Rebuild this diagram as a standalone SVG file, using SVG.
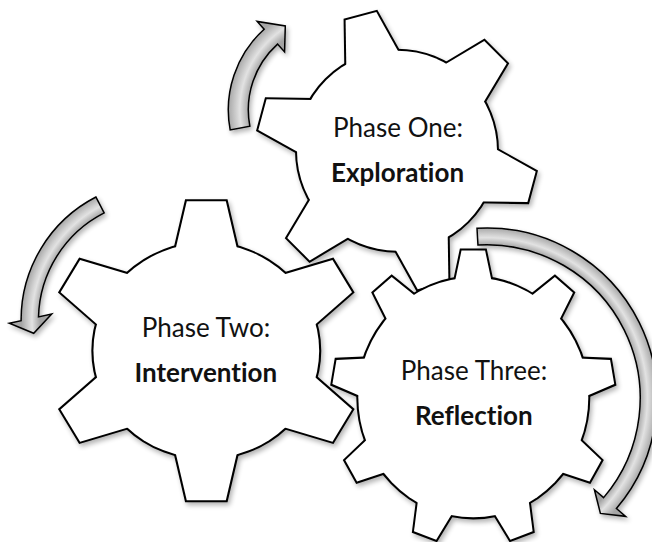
<svg xmlns="http://www.w3.org/2000/svg" xmlns:xlink="http://www.w3.org/1999/xlink" width="652" height="542" viewBox="0 0 652 542">
<defs>
<style>
.ol{fill:#000;stroke:#000;stroke-width:4;stroke-linejoin:miter}
.fw{fill:#fff;stroke:none}
.lbl{font-family:Lato,"Open Sans","Liberation Sans",sans-serif;font-size:26px;fill:#111;text-anchor:middle;font-variant-ligatures:none;font-feature-settings:"liga" 0,"clig" 0}
.bold{font-weight:bold}
.arr{stroke:#000;stroke-width:1.5;stroke-linejoin:miter}
</style>
<filter id="sh" x="-20%" y="-20%" width="140%" height="140%">
<feGaussianBlur in="SourceAlpha" stdDeviation="2.5"/>
<feOffset dx="2" dy="3"/>
<feComponentTransfer><feFuncA type="linear" slope="0.3"/></feComponentTransfer>
<feMerge><feMergeNode/><feMergeNode in="SourceGraphic"/></feMerge>
</filter>
<path id="t1" d="M80,-30.8 L139.3,-15.9 L139.3,15.9 L80,30.8 Z"/>
<path id="t2" d="M85,-33 L149.5,-18.6 L149.5,18.6 L85,33 Z"/>
<path id="t3" d="M100,-20.8 L141,-11.8 L141,11.8 L100,20.8 Z"/>
<g id="gs1">
<circle r="100"/>
<use href="#t1" transform="rotate(15)"/>
<use href="#t1" transform="rotate(75)"/>
<use href="#t1" transform="rotate(135)"/>
<use href="#t1" transform="rotate(195)"/>
<use href="#t1" transform="rotate(255)"/>
<use href="#t1" transform="rotate(315)"/>
</g>
<g id="gs2">
<circle r="107.5"/>
<use href="#t2" transform="rotate(-90)"/>
<use href="#t2" transform="rotate(-30)"/>
<use href="#t2" transform="rotate(30)"/>
<use href="#t2" transform="rotate(90)"/>
<use href="#t2" transform="rotate(150)"/>
<use href="#t2" transform="rotate(210)"/>
</g>
<g id="gs3">
<circle r="115"/>
<use href="#t3" transform="rotate(-90)"/>
<use href="#t3" transform="rotate(-50)"/>
<use href="#t3" transform="rotate(-10)"/>
<use href="#t3" transform="rotate(30)"/>
<use href="#t3" transform="rotate(70)"/>
<use href="#t3" transform="rotate(110)"/>
<use href="#t3" transform="rotate(150)"/>
<use href="#t3" transform="rotate(190)"/>
<use href="#t3" transform="rotate(230)"/>
</g>
<radialGradient id="gA" gradientUnits="userSpaceOnUse" cx="336.7" cy="109.8" r="125">
<stop offset="0.70" stop-color="#a3a3a3"/>
<stop offset="0.775" stop-color="#e2e2e2"/>
<stop offset="0.80" stop-color="#d2d2d2"/>
<stop offset="0.87" stop-color="#a6a6a6"/>
</radialGradient>
<radialGradient id="gB" gradientUnits="userSpaceOnUse" cx="160" cy="319.6" r="160">
<stop offset="0.75" stop-color="#a3a3a3"/>
<stop offset="0.80" stop-color="#e2e2e2"/>
<stop offset="0.82" stop-color="#d2d2d2"/>
<stop offset="0.866" stop-color="#a6a6a6"/>
</radialGradient>
<radialGradient id="gC" gradientUnits="userSpaceOnUse" cx="486.8" cy="398.2" r="190">
<stop offset="0.805" stop-color="#a3a3a3"/>
<stop offset="0.845" stop-color="#e2e2e2"/>
<stop offset="0.86" stop-color="#d2d2d2"/>
<stop offset="0.898" stop-color="#a6a6a6"/>
</radialGradient>
</defs>
<rect width="652" height="542" fill="#fff"/>
<g id="node-phase-one">
<g transform="translate(397,150.7)">
<use href="#gs1" class="ol" filter="url(#sh)"/>
<use href="#gs1" class="fw"/>
</g>
<text class="lbl" x="398" y="136.7">Phase One:</text>
<text class="lbl bold" x="397.5" y="181.7">Exploration</text>
</g>
<g id="node-phase-two">
<g transform="translate(206.3,350.8) scale(1.05,1)">
<use href="#gs2" class="ol" filter="url(#sh)"/>
<use href="#gs2" class="fw"/>
</g>
<text class="lbl" x="206" y="336.7">Phase Two:</text>
<text class="lbl bold" x="205.8" y="381.7">Intervention</text>
</g>
<g id="node-phase-three">
<g transform="translate(473.3,397.5) scale(1,1.042)">
<use href="#gs3" class="ol" filter="url(#sh)"/>
<use href="#gs3" class="fw"/>
</g>
<text class="lbl" x="474" y="380">Phase Three:</text>
<text class="lbl bold" x="473.8" y="425">Reflection</text>
</g>
<g id="connectors" filter="url(#sh)">
<path class="arr" fill="url(#gA)" d="M230.19,129.93 A108.4,108.4 0 0 1 264.17,29.24 L257.14,21.44 L285.29,25.9 L284.57,51.91 L277.55,44.11 A88.4,88.4 0 0 0 249.84,126.21 Z"/>
<path class="arr" fill="url(#gB)" d="M95.93,197.04 A138.3,138.3 0 0 0 21.1,320.7 L9.3,323.3 L33.7,333.3 L51.7,314 L38.5,316.9 A120.5,120.5 0 0 1 104.17,212.81 Z"/>
<path class="arr" fill="url(#gC)" d="M477.0,228.28 A170.2,170.2 0 0 1 616.41,508.51 L625.63,516.35 L600.41,513.41 L594.41,489.78 L603.62,497.62 A153.4,153.4 0 0 0 477.97,245.05 Z"/>
</g>
</svg>
